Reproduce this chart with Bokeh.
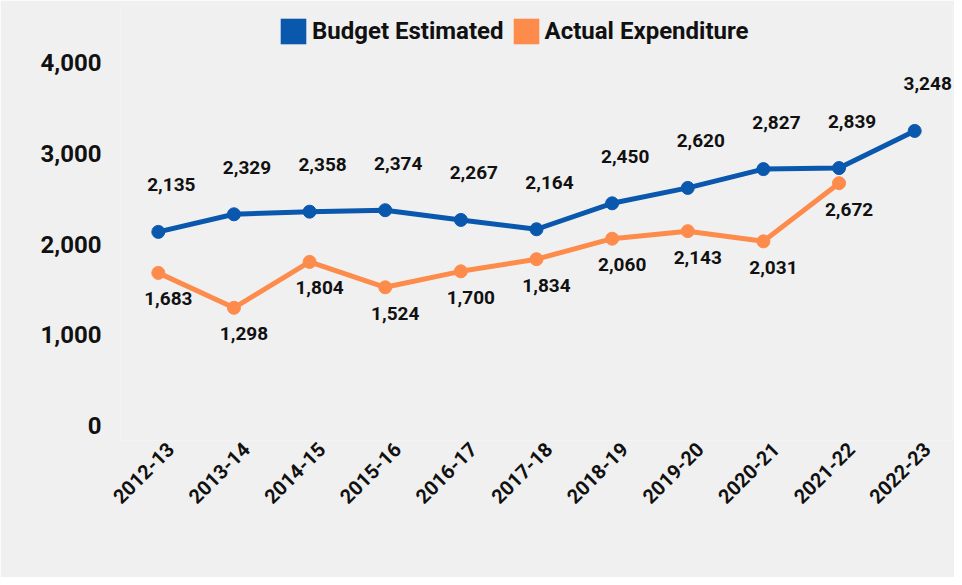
from math import pi
from bokeh.plotting import figure
from bokeh.models import (ColumnDataSource, Range1d, FixedTicker,
                          NumeralTickFormatter, Legend, LegendItem, LinearAxis)
from bokeh.core.properties import value
from bokeh.embed import file_html
from bokeh.resources import INLINE

years = ["2012-13", "2013-14", "2014-15", "2015-16", "2016-17", "2017-18",
         "2018-19", "2019-20", "2020-21", "2021-22", "2022-23"]
budget = [2135, 2329, 2358, 2374, 2267, 2164, 2450, 2620, 2827, 2839, 3248]
actual = [1683, 1298, 1804, 1524, 1700, 1834, 2060, 2143, 2031, 2672]
y_ticks = [0, 1000, 2000, 3000, 4000]

BLUE = "#0a58ae"
ORANGE = "#fd8c4c"
BG = "#f0f0f0"
FONT = "Roboto"
INK = "#111111"

n = len(years)
idx = list(range(n))

p = figure(width=954, height=577, x_range=Range1d(-0.5, n - 0.5),
           y_range=Range1d(-165, 4642), output_backend="svg", toolbar_location=None,
           min_border_left=120, min_border_right=2, min_border_top=4,
           min_border_bottom=137)
p.background_fill_color = BG
p.border_fill_color = BG
p.outline_line_color = None
p.grid.grid_line_color = None

# y axis
p.yaxis.ticker = FixedTicker(ticks=y_ticks)
p.yaxis.formatter = NumeralTickFormatter(format="0,0")
yax = p.yaxis[0]
yax.axis_line_color = None
yax.major_tick_line_color = None
yax.minor_tick_line_color = None
yax.major_tick_out = 0
yax.major_tick_in = 0
yax.major_label_text_font = FONT
yax.major_label_text_font_style = "bold"
yax.major_label_text_color = INK
yax.major_label_text_font_size = "24px"
yax.major_label_standoff = 19

# category labels on a slightly shifted axis (labels sit right of the point)
p.xaxis.visible = False
shift = 0.16
p.extra_x_ranges = {"lab": Range1d(-0.5 - shift, n - 0.5 - shift)}
xax = LinearAxis(x_range_name="lab", ticker=FixedTicker(ticks=idx),
                 major_label_overrides={i: y for i, y in zip(idx, years)})
xax.axis_line_color = None
xax.major_tick_line_color = None
xax.minor_tick_line_color = None
xax.major_tick_out = 0
xax.major_tick_in = 0
xax.major_label_text_font = FONT
xax.major_label_text_font_style = "bold"
xax.major_label_text_color = INK
xax.major_label_text_font_size = "20px"
xax.major_label_orientation = pi / 4
xax.major_label_standoff = 5
p.add_layout(xax, "below")

bsrc = ColumnDataSource(dict(x=idx, y=budget, t=[f"{v:,}" for v in budget]))
asrc = ColumnDataSource(dict(x=idx[:len(actual)], y=actual,
                             t=[f"{v:,}" for v in actual]))

p.line("x", "y", source=bsrc, line_color=BLUE, line_width=5)
p.scatter("x", "y", source=bsrc, size=13, fill_color=BLUE, line_color=BLUE)
p.line("x", "y", source=asrc, line_color=ORANGE, line_width=5)
p.scatter("x", "y", source=asrc, size=13, fill_color=ORANGE, line_color=ORANGE)

p.text("x", "y", text="t", source=bsrc, x_offset=13, y_offset=-47,
       text_align="center", text_baseline="middle", text_font=value(FONT),
       text_font_style="bold", text_font_size="19px", text_color=INK)
p.text("x", "y", text="t", source=asrc, x_offset=10, y_offset=26,
       text_align="center", text_baseline="middle", text_font=value(FONT),
       text_font_style="bold", text_font_size="19px", text_color=INK)

# legend swatches: zero-area quads (invisible in the plot, full square in legend)
lb = p.quad(left="x", right="x", top="y", bottom="y", source=bsrc,
            fill_color=BLUE, line_color=None)
lo = p.quad(left="x", right="x", top="y", bottom="y", source=asrc,
            fill_color=ORANGE, line_color=None)
legend = Legend(items=[LegendItem(label="Budget Estimated", renderers=[lb]),
                       LegendItem(label="Actual Expenditure", renderers=[lo])],
                orientation="horizontal", location=(154, 390),
                glyph_width=32, glyph_height=32, label_standoff=3, spacing=6,
                padding=3, margin=0,
                label_text_font=FONT, label_text_font_style="bold",
                label_text_font_size="24px", label_text_color=INK,
                border_line_alpha=0, background_fill_alpha=0)
p.add_layout(legend, "center")

open("out.html", "w").write(file_html(p, INLINE))
